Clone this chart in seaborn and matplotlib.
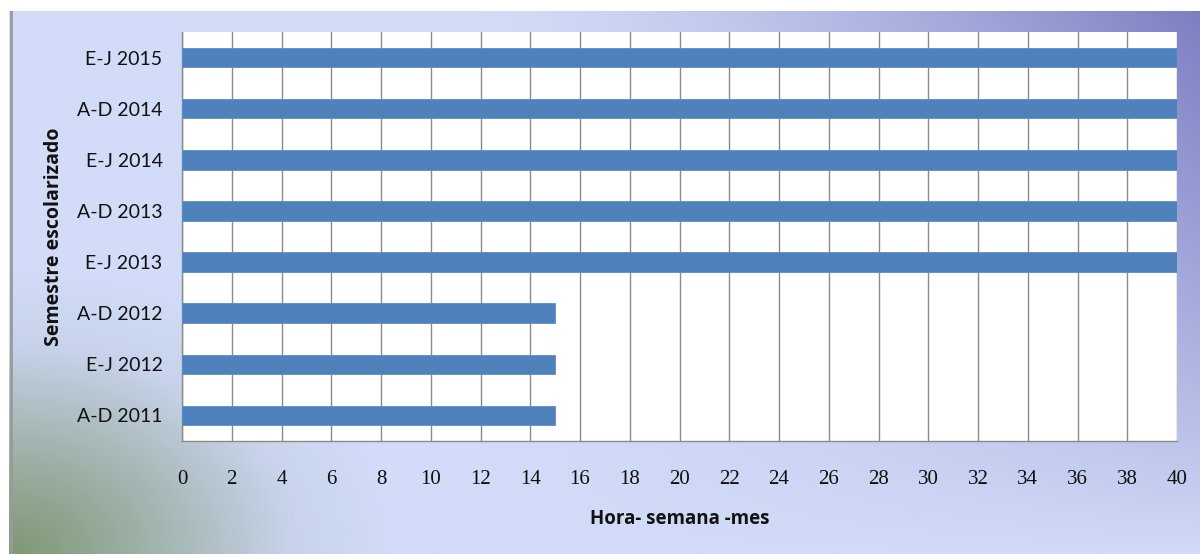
import numpy as np
import pandas as pd
import matplotlib
matplotlib.use("Agg")
import matplotlib.pyplot as plt
import seaborn as sns

# Semester data (hours per week per month)
semestres = ["E-J 2015", "A-D 2014", "E-J 2014", "A-D 2013",
             "E-J 2013", "A-D 2012", "E-J 2012", "A-D 2011"]
horas = [40, 40, 40, 40, 40, 15, 15, 15]
x_ticks = list(range(0, 41, 2))

df = pd.DataFrame({"semestre": semestres, "horas": horas})

sns.set_theme(style="white")
plt.rcParams["font.family"] = ["Lato", "DejaVu Sans"]

fig = plt.figure(figsize=(12, 5.54), dpi=100)
fig.patch.set_facecolor("white")

# Gradient backdrop panel
bg = fig.add_axes([9 / 1200, 0, 1 - 9 / 1200, 1 - 11 / 554])
h, w = 300, 600
yy, xx = np.mgrid[0:1:h * 1j, 0:1:w * 1j]  # yy: 0 top -> 1 bottom
base = np.array([210, 220, 248]) / 255.0
purple = np.array([126, 126, 194]) / 255.0
green = np.array([128, 152, 116]) / 255.0
grey = np.array([180, 195, 210]) / 255.0
img = np.ones((h, w, 3)) * base
# purple wash spreading from the top-right corner
wp = (np.clip((xx - 0.40) / 0.60, 0, 1) ** 1.4) * (np.clip(1 - yy, 0, 1) ** 0.85)
# green wash from the bottom-left corner, fading through grey
dg = np.sqrt((xx / 0.32) ** 2 + ((1 - yy) / 0.52) ** 2)
wgr = np.clip(1 - dg, 0, 1) ** 0.8
wg = np.clip(1 - dg / 0.75, 0, 1) ** 1.1
img = img * (1 - wp[..., None]) + purple * wp[..., None]
img = img * (1 - wgr[..., None]) + grey * wgr[..., None]
img = img * (1 - wg[..., None]) + green * wg[..., None]
bg.imshow(img, aspect="auto", extent=[0, 1, 0, 1], interpolation="bilinear")
bg.set_axis_off()
bg.axvline(0.0015, color="#9a9a9a", lw=2)

ax = fig.add_axes([182 / 1200, 113 / 554, 995 / 1200, 409 / 554])
ax.set_facecolor("white")
ax.set_zorder(2)

sns.barplot(data=df, x="horas", y="semestre", order=semestres,
            orient="h", color="#4F81BD", saturation=1, width=0.38,
            edgecolor="#5a8cc8", linewidth=0.6, ax=ax, zorder=3)

ax.set_xlim(0, 40)
ax.set_ylim(len(semestres) - 0.5, -0.5)
ax.set_xticks(x_ticks)
ax.set_xticklabels([str(t) for t in x_ticks], family=["Liberation Serif", "DejaVu Serif"],
                   fontsize=15, color="#0d0d0d")
ax.tick_params(axis="x", length=7, width=1, color="#8a8a8a", direction="out", pad=14)
ax.tick_params(axis="y", length=0, pad=14, labelsize=14, labelcolor="#111111")
ax.grid(axis="x", color="#8a8a8a", linewidth=1)
ax.set_axisbelow(True)
for s in ["top", "right"]:
    ax.spines[s].set_visible(False)
for s in ["left", "bottom"]:
    ax.spines[s].set_color("#8a8a8a")
    ax.spines[s].set_linewidth(1)

label_font = ["Open Sans", "DejaVu Sans"]
ax.set_xlabel("Hora- semana -mes", family=label_font, fontsize=13.5, fontweight="bold",
              color="#111111", labelpad=14)
ax.set_ylabel("Semestre escolarizado", family=label_font, fontsize=14, fontweight="bold",
              color="#111111", labelpad=9)

fig.savefig("out.png", dpi=100)
